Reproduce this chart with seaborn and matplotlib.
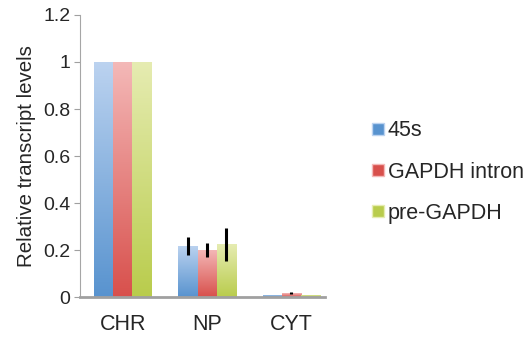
import numpy as np
import pandas as pd
import seaborn as sns
import matplotlib.pyplot as plt
import matplotlib.colors as mcolors
from matplotlib.lines import Line2D

sns.set_style("white")
plt.rcParams["font.family"] = ["Liberation Sans", "DejaVu Sans"]

# dados
fracoes = ["CHR", "NP", "CYT"]
series = ["45s", "GAPDH intron", "pre-GAPDH"]
v_45s = [1.0, 0.218, 0.011]
v_intron = [1.0, 0.200, 0.017]
v_pre = [1.0, 0.224, 0.011]
e_45s = [0.0, 0.037, 0.0]
e_intron = [0.0, 0.030, 0.005]
e_pre = [0.0, 0.071, 0.0]

# gradiente (topo claro -> base escura)
grad = {
    "45s": ("#bcd3f0", "#5893cf"),
    "GAPDH intron": ("#f4b9b8", "#d8504c"),
    "pre-GAPDH": ("#e6ecb2", "#b9cc4c"),
}

df = pd.DataFrame({
    "fracao": fracoes * 3,
    "serie": [s for s in series for _ in fracoes],
    "valor": v_45s + v_intron + v_pre,
    "erro": e_45s + e_intron + e_pre,
})

fig = plt.figure(figsize=(5.3, 3.4), dpi=100)
ax = fig.add_axes([0.151, 0.126, 0.462, 0.83])

paleta = {s: grad[s][1] for s in series}
sns.barplot(data=df, x="fracao", y="valor", hue="serie", order=fracoes,
            hue_order=series, palette=paleta, width=0.68, errorbar=None,
            legend=False, ax=ax, saturation=1)

# aplica gradiente e barras de erro
barras = [p for p in ax.patches]
i = 0
for s in series:
    top, bot = grad[s]
    cmap = mcolors.LinearSegmentedColormap.from_list(s, [bot, top])
    for f in fracoes:
        p = barras[i]
        i += 1
        x0 = p.get_x()
        w = p.get_width()
        h = p.get_height()
        img = ax.imshow(np.linspace(0, 1, 256).reshape(-1, 1), cmap=cmap,
                        origin="lower", aspect="auto",
                        extent=[x0, x0 + w, 0, h], zorder=p.get_zorder() + 0.1)
        img.set_clip_path(p)
        row = df[(df.serie == s) & (df.fracao == f)].iloc[0]
        if row.erro > 0:
            ax.errorbar(x0 + w / 2, row.valor, yerr=row.erro, fmt="none",
                        ecolor="black", elinewidth=2.2, capsize=0, zorder=5)

ax.set_xlim(-0.51, 2.40)
ax.set_ylim(0, 1.2)
ax.set_yticks([0, 0.2, 0.4, 0.6, 0.8, 1.0, 1.2])
ax.set_yticklabels(["0", "0.2", "0.4", "0.6", "0.8", "1", "1.2"])
ax.set_xlabel("")
ax.set_ylabel("Relative transcript levels", fontsize=14.8, labelpad=5)
ax.tick_params(axis="y", labelsize=14, length=4, color="#a0a0a0", left=True,
               direction="out", pad=3)
ax.tick_params(axis="x", labelsize=15.5, length=0, pad=12)

sns.despine(ax=ax)
ax.spines["left"].set_color("#a6a6a6")
ax.spines["bottom"].set_color("#a0a0a0")
ax.spines["bottom"].set_linewidth(2)

handles = [Line2D([], [], marker="s", linestyle="none", markersize=8,
                  markerfacecolor=grad[s][1], markeredgecolor=grad[s][0],
                  label=s) for s in series]
fig.legend(handles=handles, loc="center left", bbox_to_anchor=(0.685, 0.494),
           frameon=False, fontsize=15.5, labelspacing=0.95, handlelength=0.6,
           handletextpad=0.14, borderaxespad=0)

fig.savefig("out.png", dpi=100)
